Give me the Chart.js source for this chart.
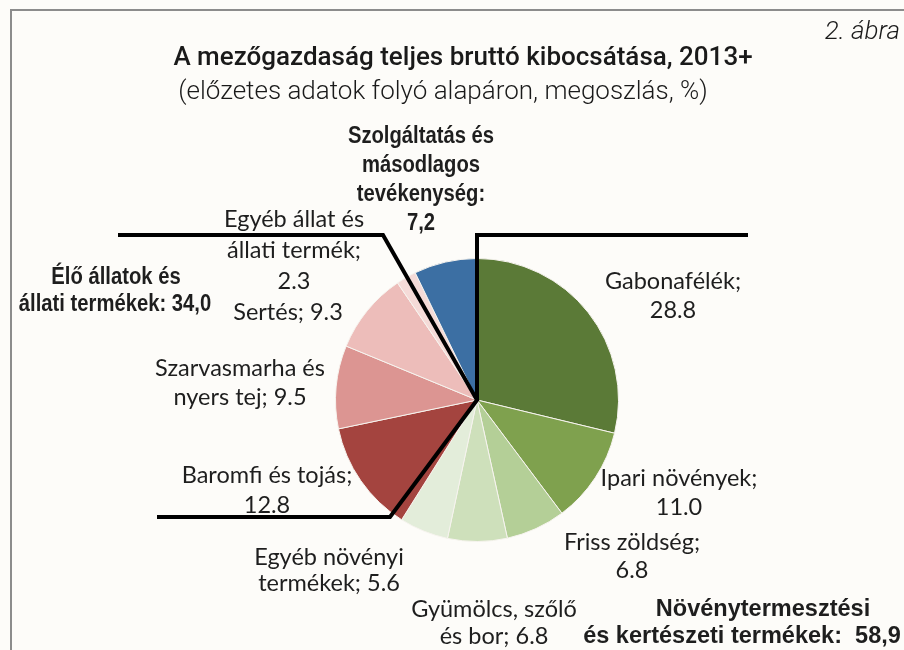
<!DOCTYPE html>
<html>
<head>
<meta charset="utf-8">
<script src="https://cdn.jsdelivr.net/npm/chart.js@4.4.1/dist/chart.umd.min.js"></script>
<style>
  html, body { margin: 0; padding: 0; background: #fdfcf9; }
  #wrap { width: 904px; height: 650px; }
</style>
</head>
<body>
<div id="wrap"><canvas id="pieChart" width="904" height="650"></canvas></div>
<script>
// Adatok (megoszlás, %)
const categories = [
  'Gabonafélék',
  'Ipari növények',
  'Friss zöldség',
  'Gyümölcs, szőlő és bor',
  'Egyéb növényi termékek',
  'Baromfi és tojás',
  'Szarvasmarha és nyers tej',
  'Sertés',
  'Egyéb állat és állati termék',
  'Szolgáltatás és másodlagos tevékenység',
];
const values = [28.8, 11.0, 6.8, 6.8, 5.6, 12.8, 9.5, 9.3, 2.3, 7.2];
const groupNames = ['Növénytermesztési és kertészeti termékek', 'Élő állatok és állati termékek'];
const groupValues = [58.9, 34.0];

const colors = [
  '#5b7a37', '#7fa14e', '#b4cf97', '#cee0bb', '#e3edda',
  '#a4443f', '#dc9592', '#edbdba', '#f5dbd8', '#3c6fa3',
];

// Feliratok elhelyezése (a kör középpontjához képest)
const sliceLabelLayout = [
  { words: [1, 1], dx: 196, dy: -119, lh: 29 },
  { words: [2, 1], dx: 202, dy: 78, lh: 29 },
  { words: [2, 1], dx: 155, dy: 142, lh: 28 },
  { words: [2, 3], dx: 17, dy: 209, lh: 27 },
  { words: [2, 2], dx: -148, dy: 157, lh: 26 },
  { words: [3, 1], dx: -210, dy: 75, lh: 30 },
  { words: [2, 3], dx: -237, dy: -32, lh: 29 },
  { words: [2], dx: -189, dy: -88, lh: 29 },
  { words: [3, 2, 1], dx: -183, dy: -181, lh: 31 },
  { words: [2, 1, 1, 1], dx: -56, dy: -263, lh: 29, bold: true },
];
const groupLabelLayout = [
  { words: [1, 5], dx: [286, 265], dy: 209, lh: 27, size: 24, scale: 0.98 },
  { words: [3, 3], dx: [-361, -362], dy: -122, lh: 27, size: 23, scale: 0.88 },
];

function sliceText(i) {
  if (i === 9) return `${categories[i]}: ${values[i].toFixed(1).replace('.', ',')}`;
  return `${categories[i]}; ${values[i].toFixed(1)}`;
}
function groupText(i) {
  const sep = i === 0 ? ':  ' : ': ';
  return `${groupNames[i]}${sep}${groupValues[i].toFixed(1).replace('.', ',')}`;
}
function splitLines(text, counts) {
  const w = text.split(' ');
  const out = [];
  let k = 0;
  counts.forEach(c => { out.push(w.slice(k, k + c).join(' ')); k += c; });
  return out;
}

const labelFont = '23.5px Lato';
const boldFont = 'bold 23px "Liberation Sans"';
const narrow = 0.88;

function drawNarrow(ctx, text, x, y, sx) {
  ctx.save();
  ctx.translate(x, y);
  ctx.scale(sx, 1);
  ctx.fillText(text, 0, 0);
  ctx.restore();
}

const annotations = {
  id: 'annotations',
  afterDraw(chart) {
    const ctx = chart.ctx;
    const arc = chart.getDatasetMeta(0).data[0];
    const cx = arc.x, cy = arc.y;
    ctx.save();

    // keret
    ctx.strokeStyle = '#8c8c8c';
    ctx.lineWidth = 2;
    ctx.beginPath();
    ctx.moveTo(11, 650);
    ctx.lineTo(11, 10);
    ctx.lineTo(904, 10);
    ctx.stroke();

    // csoportosító vonalak
    ctx.strokeStyle = '#000';
    ctx.lineWidth = 4;
    ctx.lineJoin = 'miter';
    ctx.beginPath();
    ctx.moveTo(cx - 359, cy - 165);
    ctx.lineTo(cx - 94, cy - 165);
    ctx.lineTo(cx, cy);
    ctx.lineTo(cx - 87, cy + 117);
    ctx.lineTo(cx - 320, cy + 117);
    ctx.stroke();
    ctx.beginPath();
    ctx.moveTo(cx, cy);
    ctx.lineTo(cx, cy - 165);
    ctx.lineTo(cx + 271, cy - 165);
    ctx.stroke();

    // címek
    ctx.fillStyle = '#1a1a1a';
    ctx.textAlign = 'center';
    ctx.textBaseline = 'middle';
    ctx.font = '500 26px Roboto';
    ctx.fillText('A mezőgazdaság teljes bruttó kibocsátása, 2013+', 463, 58);
    ctx.font = '300 26px Roboto';
    ctx.fillText('(előzetes adatok folyó alapáron, megoszlás, %)', 443, 92);
    ctx.font = 'italic 300 26px Roboto';
    ctx.textAlign = 'right';
    ctx.fillText('2. ábra', 900, 32);

    // szeletfeliratok
    ctx.textAlign = 'center';
    ctx.fillStyle = '#1e1e1e';
    sliceLabelLayout.forEach((L, i) => {
      splitLines(sliceText(i), L.words).forEach((line, j) => {
        const y = cy + L.dy + j * L.lh;
        if (L.bold) {
          ctx.font = boldFont;
          drawNarrow(ctx, line, cx + L.dx, y, narrow);
        } else {
          ctx.font = labelFont;
          ctx.fillText(line, cx + L.dx, y);
        }
      });
    });
    groupLabelLayout.forEach((L, i) => {
      ctx.font = `bold ${L.size}px "Liberation Sans"`;
      splitLines(groupText(i), L.words).forEach((line, j) => {
        drawNarrow(ctx, line, cx + L.dx[j], cy + L.dy + j * L.lh, L.scale);
      });
    });
    ctx.restore();
  },
};

new Chart(document.getElementById('pieChart').getContext('2d'), {
  type: 'pie',
  data: {
    labels: categories,
    datasets: [
      {
        data: values,
        backgroundColor: colors,
        borderColor: '#f6f3ee',
        borderWidth: 1,
      },
    ],
  },
  options: {
    responsive: false,
    devicePixelRatio: 1,
    animation: false,
    layout: {
      padding: { left: 335, right: 285, top: 258, bottom: 108 },
    },
    plugins: {
      legend: { display: false },
      title: { display: false },
      tooltip: { enabled: false },
    },
  },
  plugins: [annotations],
});
</script>
</body>
</html>
